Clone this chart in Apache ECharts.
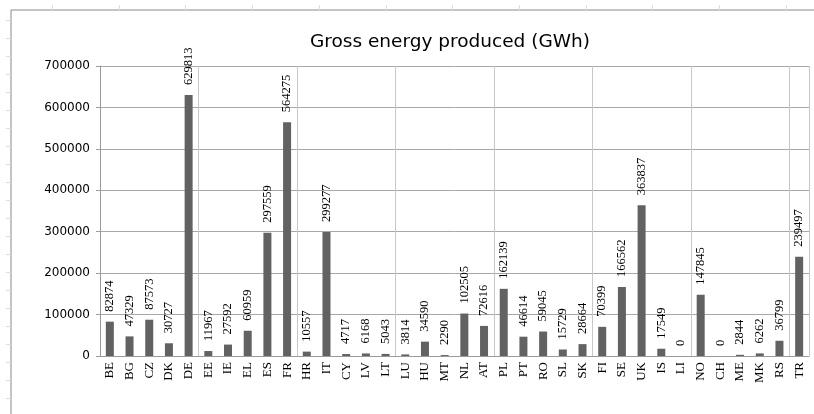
<!DOCTYPE html>
<html>
<head>
<meta charset="utf-8">
<script src="https://cdn.jsdelivr.net/npm/echarts@6/dist/echarts.min.js"></script>
<style>
  html, body { margin: 0; padding: 0; background: #ffffff; }
  #chart { width: 814px; height: 414px; }
</style>
</head>
<body>
<div id="chart"></div>
<script>
// Country codes along the x axis
const countries = ['BE','BG','CZ','DK','DE','EE','IE','EL','ES','FR','HR','IT','CY','LV','LT','LU','HU','MT',
  'NL','AT','PL','PT','RO','SL','SK','FI','SE','UK','IS','LI','NO','CH','ME','MK','RS','TR'];

// Gross energy produced per country, GWh
const grossEnergy = [82874, 47329, 87573, 30727, 629813, 11967, 27592, 60959, 297559, 564275, 10557, 299277,
  4717, 6168, 5043, 3814, 34590, 2290, 102505, 72616, 162139, 46614, 59045, 15729, 28664, 70399, 166562,
  363837, 17549, 0, 147845, 0, 2844, 6262, 36799, 239497];

// Value axis range
const yMax = 700000;
const yStep = 100000;

const chart = echarts.init(document.getElementById('chart'), null, { renderer: 'canvas' });

// Sheet-style frame with faint cell markers along top and left
const frame = [
  { type: 'line', shape: { x1: 11, y1: 10, x2: 814, y2: 10 }, style: { stroke: '#8a8a8a', lineWidth: 1 } },
  { type: 'line', shape: { x1: 11, y1: 10, x2: 11, y2: 414 }, style: { stroke: '#8a8a8a', lineWidth: 1 } }
];
for (let x = 52; x < 814; x += 66.7) {
  frame.push({ type: 'line', shape: { x1: Math.round(x) + 0.5, y1: 5, x2: Math.round(x) + 0.5, y2: 10 },
    style: { stroke: '#dddddd', lineWidth: 1 } });
}
for (let y = 20; y < 414; y += 18) {
  frame.push({ type: 'line', shape: { x1: 6, y1: Math.round(y) + 0.5, x2: 11, y2: Math.round(y) + 0.5 },
    style: { stroke: '#dddddd', lineWidth: 1 } });
}

chart.setOption({
  animation: false,
  backgroundColor: '#ffffff',
  title: {
    text: 'Gross energy produced (GWh)',
    left: 445,
    textAlign: 'center',
    top: 28,
    textStyle: { fontFamily: 'DejaVu Sans', fontSize: 18.5, fontWeight: 'normal', color: '#000000' }
  },
  graphic: frame,
  grid: { left: 100, right: 5, top: 66, bottom: 58, containLabel: false },
  xAxis: {
    type: 'category',
    data: countries,
    boundaryGap: true,
    axisLine: { show: true, lineStyle: { color: '#9a9a9a', width: 1 } },
    axisTick: { show: false },
    axisLabel: {
      rotate: 90,
      interval: 0,
      margin: 6,
      fontFamily: 'Liberation Serif',
      fontSize: 13,
      color: '#000000'
    },
    splitLine: { show: true, interval: 4, lineStyle: { color: '#c8c8c8', width: 1 } }
  },
  yAxis: {
    type: 'value',
    min: 0,
    max: yMax,
    interval: yStep,
    axisLine: { show: true, lineStyle: { color: '#9a9a9a', width: 1 } },
    axisTick: { show: true, length: 4, lineStyle: { color: '#9a9a9a' } },
    axisLabel: {
      margin: 10,
      formatter: (v) => String(v),
      fontFamily: 'DejaVu Sans',
      fontSize: 12,
      color: '#000000'
    },
    splitLine: { show: true, lineStyle: { color: '#a8a8a8', width: 1 } }
  },
  series: [{
    type: 'bar',
    data: grossEnergy,
    barWidth: 8,
    itemStyle: { color: '#626262' },
    label: {
      show: true,
      position: 'top',
      rotate: 90,
      align: 'left',
      verticalAlign: 'middle',
      distance: 10,
      fontFamily: 'Liberation Serif',
      fontSize: 12.5,
      color: '#000000'
    }
  }]
});
</script>
</body>
</html>
